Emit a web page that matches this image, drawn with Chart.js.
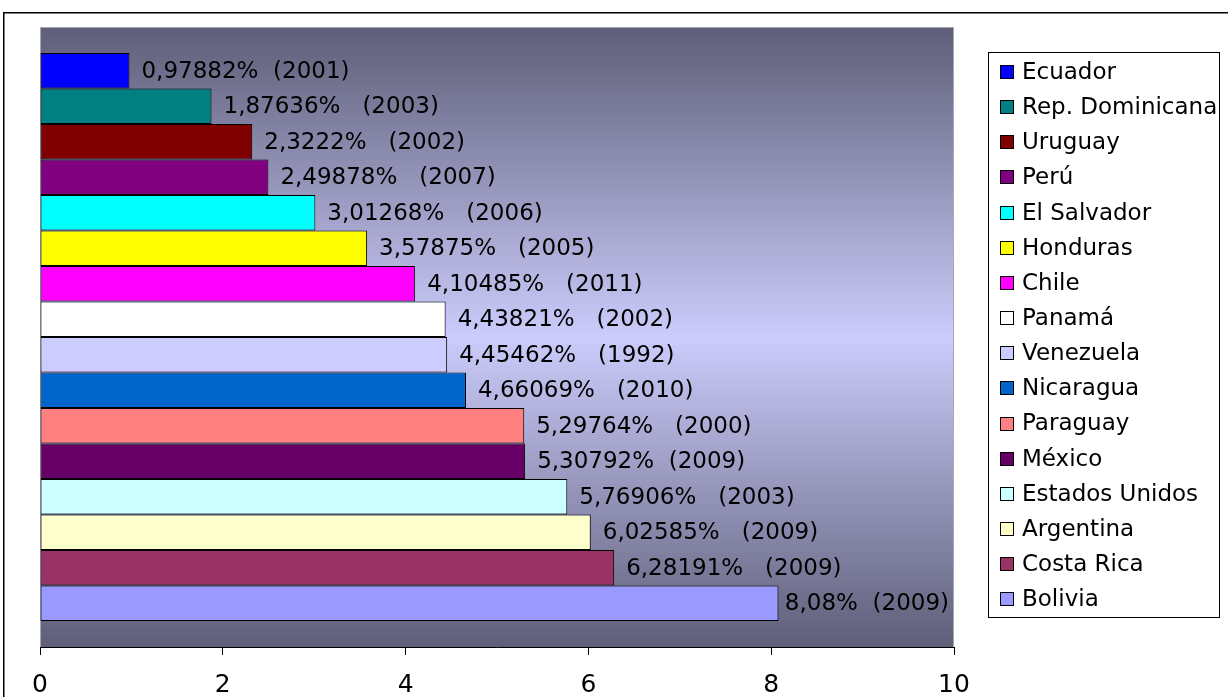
<!DOCTYPE html>
<html>
<head>
<meta charset="utf-8">
<script src="https://cdn.jsdelivr.net/npm/chart.js@4/dist/chart.umd.min.js"></script>
<style>
  html, body { margin: 0; padding: 0; background: #ffffff; }
  #wrap { width: 1228px; height: 697px; position: relative; }
</style>
</head>
<body>
<div id="wrap"><canvas id="chart" width="1228" height="697"></canvas></div>
<script>
// Gasto público en educación (% del PIB), último año disponible
const countries = ['Ecuador', 'Rep. Dominicana', 'Uruguay', 'Perú', 'El Salvador', 'Honduras', 'Chile',
  'Panamá', 'Venezuela', 'Nicaragua', 'Paraguay', 'México', 'Estados Unidos', 'Argentina', 'Costa Rica', 'Bolivia'];
const values = [0.97882, 1.87636, 2.3222, 2.49878, 3.01268, 3.57875, 4.10485,
  4.43821, 4.45462, 4.66069, 5.29764, 5.30792, 5.76906, 6.02585, 6.28191, 8.08];
const years = ['  (2001)', '   (2003)', '   (2002)', '   (2007)', '   (2006)', '   (2005)', '   (2011)',
  '   (2002)', '   (1992)', '   (2010)', '   (2000)', '  (2009)', '   (2003)', '   (2009)', '   (2009)', '  (2009)'];
const xTicks = [0, 2, 4, 6, 8, 10];

const colors = ['#0000FF', '#008080', '#800000', '#800080', '#00FFFF', '#FFFF00', '#FF00FF',
  '#FFFFFF', '#CCCCFF', '#0066CC', '#FF8080', '#660066', '#CCFFFF', '#FFFFCC', '#993366', '#9999FF'];

const FONT = 'DejaVu Sans';

function fmtValue(v) {
  return String(v).replace('.', ',') + '%';
}

// Outer frame + gradient plot background
const backdrop = {
  id: 'backdrop',
  beforeDraw(chart) {
    const { ctx, chartArea: a } = chart;
    ctx.save();
    ctx.fillStyle = '#ffffff';
    ctx.fillRect(0, 0, chart.width, chart.height);
    ctx.strokeStyle = '#000000';
    ctx.lineWidth = 1.5;
    ctx.strokeRect(3.75, 12.75, chart.width + 50, chart.height + 50);
    const g = ctx.createLinearGradient(0, a.top, 0, a.bottom);
    g.addColorStop(0, '#5e5e78');
    g.addColorStop(0.5, '#ccccfc');
    g.addColorStop(1, '#5e5e78');
    ctx.fillStyle = g;
    ctx.fillRect(a.left, a.top, a.right - a.left, a.bottom - a.top);
    ctx.strokeStyle = '#a8a8b0';
    ctx.lineWidth = 1;
    ctx.strokeRect(a.left + 0.5, a.top + 0.5, a.right - a.left - 1, a.bottom - a.top);
    ctx.restore();
  }
};

// Value labels at the end of each bar
const barLabels = {
  id: 'barLabels',
  afterDatasetsDraw(chart) {
    const { ctx, chartArea: a } = chart;
    ctx.save();
    ctx.font = `23px "${FONT}"`;
    ctx.fillStyle = '#000000';
    ctx.textBaseline = 'middle';
    ctx.textAlign = 'left';
    chart.data.datasets.forEach((ds, i) => {
      const bar = chart.getDatasetMeta(i).data[0];
      if (!bar) return;
      const text = fmtValue(ds.data[0]) + years[i];
      const w = ctx.measureText(text).width;
      const x = Math.min(bar.x + 12, a.right - w - 5);
      ctx.fillText(text, x, bar.y + 1);
    });
    ctx.restore();
  }
};

// Boxed legend to the right of the plot
const boxLegend = {
  id: 'boxLegend',
  afterDraw(chart) {
    const { ctx } = chart;
    const left = 988.5, top = 52.5, width = 231, height = 565;
    const firstY = 72, step = 35.15;
    ctx.save();
    ctx.strokeStyle = '#000000';
    ctx.lineWidth = 1;
    ctx.strokeRect(left, top, width, height);
    ctx.font = `23px "${FONT}"`;
    ctx.textBaseline = 'middle';
    ctx.textAlign = 'left';
    chart.data.datasets.forEach((ds, i) => {
      const cy = firstY + i * step;
      ctx.fillStyle = ds.backgroundColor;
      ctx.fillRect(1000.5, Math.round(cy) - 6.5, 13, 13);
      ctx.strokeStyle = '#000000';
      ctx.strokeRect(1000.5, Math.round(cy) - 6.5, 13, 13);
      ctx.fillStyle = '#000000';
      ctx.fillText(ds.label, 1022, cy + 1);
    });
    ctx.restore();
  }
};

const datasets = countries.map((name, i) => ({
  label: name,
  data: [values[i]],
  backgroundColor: colors[i],
  borderColor: '#000000',
  borderWidth: 1,
  borderSkipped: false,
  barPercentage: 1.0,
  categoryPercentage: 0.916
}));

new Chart(document.getElementById('chart'), {
  type: 'bar',
  data: { labels: [''], datasets },
  options: {
    indexAxis: 'y',
    responsive: false,
    animation: false,
    events: [],
    layout: { padding: { left: 40, top: 27, right: 274, bottom: 0 } },
    plugins: { legend: { display: false }, tooltip: { enabled: false }, title: { display: false } },
    scales: {
      y: { display: false },
      x: {
        min: 0,
        max: 10,
        afterBuildTicks(scale) { scale.ticks = xTicks.map(v => ({ value: v })); },
        afterFit(scale) { scale.height = 50; },
        grid: { drawOnChartArea: false, drawTicks: true, tickLength: 8, tickColor: '#000000', tickWidth: 1 },
        border: { display: true, color: '#000000', width: 1 },
        ticks: {
          padding: 15,
          color: '#000000',
          font: { family: FONT, size: 25 },
          maxRotation: 0
        }
      }
    }
  },
  plugins: [backdrop, barLabels, boxLegend]
});
</script>
</body>
</html>
